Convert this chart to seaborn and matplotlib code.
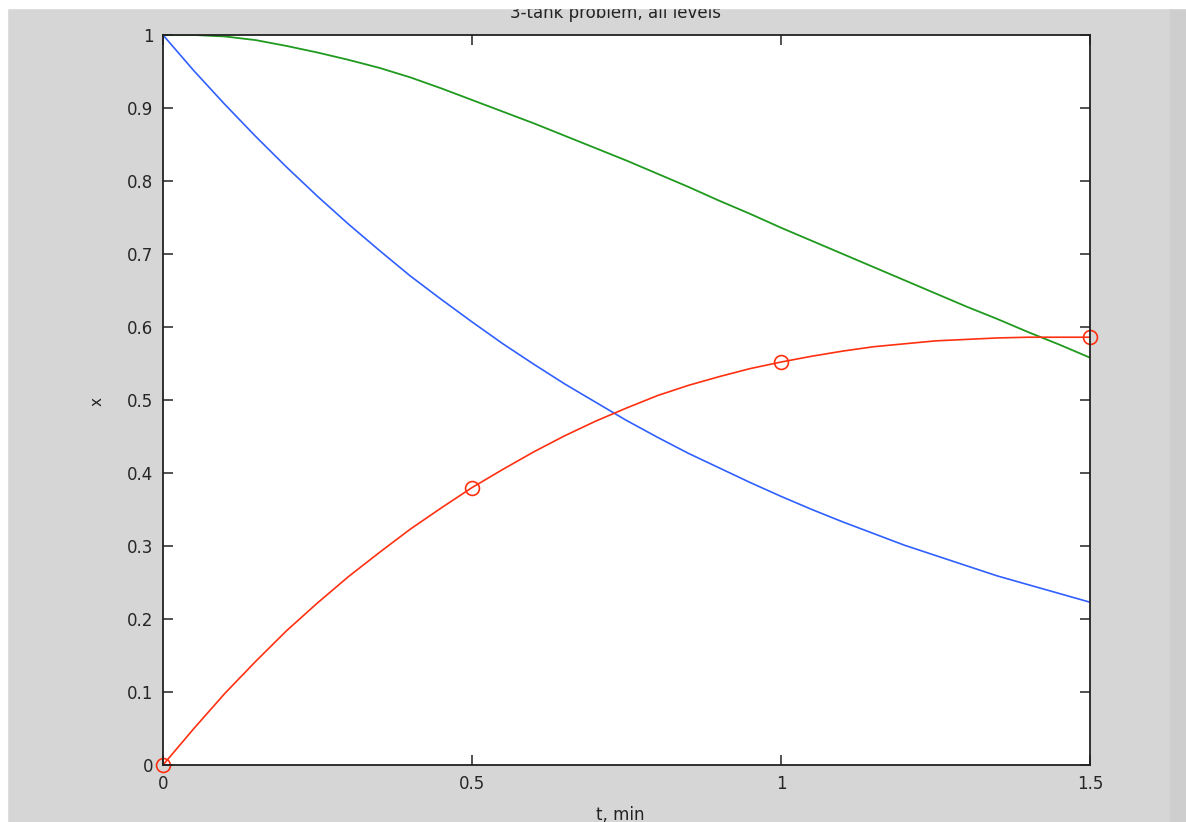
import numpy as np
import pandas as pd
import seaborn as sns
import matplotlib.pyplot as plt
from matplotlib.patches import Rectangle

# values (every 0.05 min)
t = [0.0, 0.05, 0.1, 0.15, 0.2, 0.25, 0.3, 0.35, 0.4, 0.45, 0.5, 0.55, 0.6, 0.65,
     0.7, 0.75, 0.8, 0.85, 0.9, 0.95, 1.0, 1.05, 1.1, 1.15, 1.2, 1.25, 1.3, 1.35,
     1.4, 1.45, 1.5]
x_blue = [1.0, 0.951, 0.905, 0.861, 0.819, 0.779, 0.741, 0.705, 0.670, 0.638,
          0.607, 0.577, 0.549, 0.522, 0.497, 0.472, 0.449, 0.427, 0.407, 0.387,
          0.368, 0.350, 0.333, 0.317, 0.301, 0.287, 0.273, 0.259, 0.247, 0.235,
          0.223]
x_green = [1.0, 1.0, 0.998, 0.993, 0.985, 0.976, 0.966, 0.955, 0.942, 0.927,
           0.911, 0.895, 0.879, 0.862, 0.845, 0.828, 0.810, 0.792, 0.773, 0.755,
           0.736, 0.718, 0.700, 0.682, 0.664, 0.646, 0.628, 0.611, 0.593, 0.576,
           0.558]
x_red = [0.0, 0.050, 0.098, 0.142, 0.184, 0.222, 0.258, 0.291, 0.323, 0.352,
         0.380, 0.405, 0.429, 0.451, 0.471, 0.489, 0.506, 0.520, 0.532, 0.543,
         0.552, 0.560, 0.567, 0.573, 0.577, 0.581, 0.583, 0.585, 0.586, 0.586,
         0.586]

t_marks = [0.0, 0.5, 1.0, 1.5]
red_marks = [0.0, 0.380, 0.552, 0.586]

xtick_vals = [0, 0.5, 1, 1.5]
xtick_labels = ["0", "0.5", "1", "1.5"]
ytick_vals = [0, 0.1, 0.2, 0.3, 0.4, 0.5, 0.6, 0.7, 0.8, 0.9, 1]
ytick_labels = ["0", "0.1", "0.2", "0.3", "0.4", "0.5", "0.6", "0.7", "0.8", "0.9", "1"]

blue = "#3060ff"
green = "#1f9a1f"
red = "#ff3010"

sns.set_style("ticks")
plt.rcParams['font.family'] = ['DejaVu Sans']

df = pd.DataFrame({"t": t, "blue": x_blue, "green": x_green, "red": x_red})

fig = plt.figure(figsize=(11.86, 8.22), dpi=100, facecolor="#d6d6d6")
ax = fig.add_axes([163 / 1186, 1 - 765 / 822, 927 / 1186, 730 / 822])
ax.set_facecolor("white")

sns.lineplot(data=df, x="t", y="blue", color=blue, lw=1.2, ax=ax)
sns.lineplot(data=df, x="t", y="green", color=green, lw=1.3, ax=ax)
sns.lineplot(data=df, x="t", y="red", color=red, lw=1.2, ax=ax)
sns.lineplot(x=t_marks, y=red_marks, marker="o", linestyle="", markersize=10,
             markerfacecolor="none", markeredgecolor=red, markeredgewidth=1.2,
             clip_on=False, ax=ax)

ax.set_xlim(0, 1.5)
ax.set_ylim(0, 1)
ax.set_xticks(xtick_vals)
ax.set_xticklabels(xtick_labels)
ax.set_yticks(ytick_vals)
ax.set_yticklabels(ytick_labels)
ax.set_xlabel("")
ax.set_ylabel("")
ax.tick_params(direction="in", top=True, right=True, length=7, width=1.1,
               color="#222222", labelsize=12, pad=7)
for s in ax.spines.values():
    s.set_visible(True)
    s.set_linewidth(1.3)
    s.set_color("#222222")

# labels placed like the (cropped) screenshot
fig.text(615 / 1186, 1 - 18 / 822, "3-tank problem, all levels", ha="center",
         va="baseline", fontsize=12, color="#222222")
fig.text(620 / 1186, 1 - 806 / 822, "t, min", ha="center", va="top",
         fontsize=12, color="#222222")
fig.text(97 / 1186, 1 - 402 / 822, "x", ha="center", va="center",
         rotation=90, fontsize=11, color="#222222")

# screenshot border strips
fig.add_artist(Rectangle((0, 1 - 8 / 822), 1, 8 / 822, transform=fig.transFigure,
                         color="white", zorder=10))
fig.add_artist(Rectangle((0, 0), 7 / 1186, 1, transform=fig.transFigure,
                         color="white", zorder=10))
fig.add_artist(Rectangle((1170 / 1186, 0), 16 / 1186, 1 - 8 / 822,
                         transform=fig.transFigure, color="#cecece", zorder=1))

fig.savefig("out.png", dpi=100, facecolor=fig.get_facecolor())
